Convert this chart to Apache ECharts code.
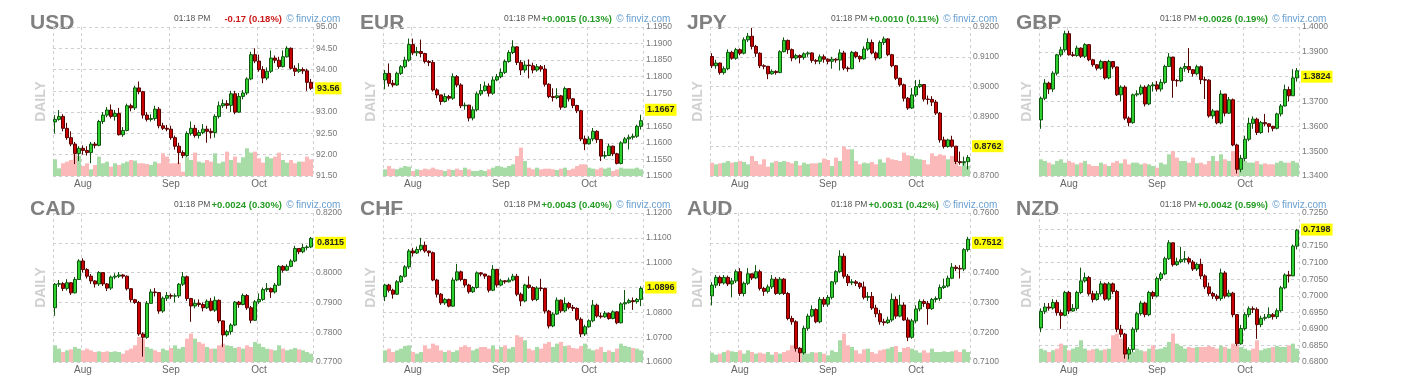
<!DOCTYPE html>
<html>
<head>
<meta charset="utf-8">
<title>Forex daily</title>
<script src="https://cdn.jsdelivr.net/npm/echarts@6/dist/echarts.min.js"></script>
<style>
html, body { margin: 0; padding: 0; background: #fff; }
#chart { width: 1415px; height: 377px; }
</style>
</head>
<body>
<div id="chart"></div>
<script>
// trading days shown on every panel (22 Jul - 20 Oct)
var days = [
  '07-22','07-23','07-26','07-27','07-28','07-29','07-30',
  '08-02','08-03','08-04','08-05','08-06','08-09','08-10','08-11','08-12','08-13',
  '08-16','08-17','08-18','08-19','08-20','08-23','08-24','08-25','08-26','08-27','08-30','08-31',
  '09-01','09-02','09-03','09-06','09-07','09-08','09-09','09-10','09-13','09-14','09-15','09-16','09-17',
  '09-20','09-21','09-22','09-23','09-24','09-27','09-28','09-29','09-30',
  '10-01','10-04','10-05','10-06','10-07','10-08','10-11','10-12','10-13','10-14','10-15','10-18','10-19','10-20'
];
var monthStarts = ['08-02', '09-01', '10-01'];
var monthNames = { '08': 'Aug', '09': 'Sep', '10': 'Oct' };

/* USD */
var usdFirstOpen = 92.77;
var usdClose = [92.83,92.90,92.62,92.40,92.25,92.03,92.15,92.10,92.05,92.25,
  92.22,92.78,92.93,93.05,92.90,92.97,92.47,92.57,93.15,93.10,
  93.57,93.48,92.93,92.83,92.85,93.07,92.68,92.62,92.60,92.40,
  92.20,92.05,91.98,92.50,92.62,92.45,92.52,92.60,92.55,92.52,
  92.90,93.15,93.20,93.16,93.43,93.00,93.37,93.45,93.78,94.35,
  94.20,94.00,93.80,93.96,94.27,94.22,94.07,94.30,94.50,94.03,
  93.96,94.00,93.97,93.70,93.56];
var usdHigh = [92.93,93.05,92.95,92.75,92.55,92.30,92.20,92.22,92.20,92.30,
  92.30,92.82,93.00,93.12,93.18,93.05,93.10,92.65,93.20,93.20,
  93.62,93.72,93.50,93.00,92.95,93.15,93.12,92.75,92.70,92.68,
  92.45,92.28,92.10,92.55,92.78,92.70,92.58,92.72,92.68,92.62,
  92.95,93.25,93.30,93.28,93.50,93.50,93.45,93.52,93.82,94.42,
  94.50,94.35,94.08,94.05,94.45,94.33,94.30,94.45,94.55,94.52,
  94.10,94.15,94.05,94.02,93.78];
var usdLow = [92.50,92.80,92.55,92.35,92.20,91.78,91.85,92.00,91.98,91.80,
  92.15,92.20,92.72,92.88,92.85,92.80,92.45,92.42,92.55,93.02,
  93.05,93.42,92.85,92.78,92.78,92.80,92.62,92.58,92.55,92.35,
  92.12,91.78,91.92,91.95,92.45,92.40,92.38,92.48,92.28,92.38,
  92.40,92.85,93.10,93.08,93.00,92.95,92.98,93.30,93.40,93.75,
  94.15,93.95,93.68,93.75,93.92,94.15,94.02,94.05,94.28,94.00,
  93.85,93.92,93.90,93.50,93.52];
var usdVolume = [50,23,38,43,48,66,60,30,38,20, 33,58,38,43,28,38,33,38,43,48,
  46,38,38,36,33,43,38,68,58,38, 38,40,13,58,48,70,43,40,48,43,
  68,38,43,73,48,58,40,56,83,70, 73,53,40,58,53,58,70,48,40,48, 38,43,43,58,50];

/* EUR */
var eurFirstOpen = 1.1790;
var eurClose = [1.1810,1.1780,1.1775,1.1810,1.1830,1.1850,1.1897,1.1872,1.1876,1.1870,
  1.1846,1.1843,1.1760,1.1745,1.1725,1.1740,1.1735,1.1800,1.1775,1.1712,
  1.1714,1.1675,1.1700,1.1748,1.1758,1.1772,1.1750,1.1790,1.1800,1.1813,
  1.1846,1.1873,1.1890,1.1843,1.1820,1.1835,1.1833,1.1820,1.1830,1.1823,
  1.1777,1.1740,1.1737,1.1742,1.1708,1.1764,1.1733,1.1713,1.1697,1.1612,
  1.1597,1.1612,1.1635,1.1610,1.1560,1.1562,1.1590,1.1567,1.1538,1.1600,
  1.1612,1.1617,1.1620,1.1650,1.1667];
var eurHigh = [1.1820,1.1840,1.1790,1.1815,1.1835,1.1860,1.1915,1.1915,1.1890,1.1912,
  1.1872,1.1850,1.1850,1.1765,1.1745,1.1750,1.1745,1.1810,1.1805,1.1780,
  1.1722,1.1715,1.1710,1.1755,1.1778,1.1785,1.1780,1.1800,1.1808,1.1825,
  1.1852,1.1880,1.1910,1.1892,1.1850,1.1848,1.1852,1.1842,1.1838,1.1835,
  1.1835,1.1780,1.1765,1.1765,1.1745,1.1770,1.1765,1.1735,1.1715,1.1700,
  1.1622,1.1620,1.1645,1.1638,1.1612,1.1575,1.1598,1.1592,1.1570,1.1605,
  1.1618,1.1625,1.1628,1.1655,1.1685];
var eurLow = [1.1762,1.1770,1.1768,1.1772,1.1805,1.1825,1.1845,1.1865,1.1862,1.1858,
  1.1840,1.1832,1.1755,1.1735,1.1715,1.1722,1.1728,1.1730,1.1768,1.1705,
  1.1700,1.1665,1.1668,1.1695,1.1742,1.1755,1.1740,1.1745,1.1786,1.1795,
  1.1808,1.1842,1.1868,1.1835,1.1805,1.1812,1.1795,1.1810,1.1815,1.1815,
  1.1770,1.1735,1.1725,1.1732,1.1700,1.1705,1.1725,1.1705,1.1690,1.1605,
  1.1578,1.1595,1.1605,1.1600,1.1545,1.1552,1.1560,1.1560,1.1535,1.1535,
  1.1600,1.1580,1.1610,1.1615,1.1640];
var eurVolume = [20,30,22,20,25,30,28,15,20,18, 22,20,25,20,18,15,20,18,22,18,
  25,20,15,15,18,15,20,25,30,28, 25,30,35,60,85,45,25,20,25,20,
  22,22,20,18,22,25,18,22,30,35, 35,25,22,20,25,22,25,15,20,25, 22,22,22,25,20];

/* JPY */
var jpyFirstOpen = 0.9101;
var jpyClose = [0.9070,0.9079,0.9047,0.9060,0.9115,0.9095,0.9124,0.9112,0.9157,0.9169,
  0.9135,0.9112,0.9070,0.9068,0.9043,0.9051,0.9047,0.9117,0.9155,0.9124,
  0.9096,0.9104,0.9098,0.9110,0.9113,0.9088,0.9085,0.9100,0.9092,0.9085,
  0.9092,0.9089,0.9113,0.9062,0.9060,0.9115,0.9101,0.9093,0.9126,0.9148,
  0.9113,0.9096,0.9148,0.9160,0.9107,0.9070,0.9028,0.9006,0.8961,0.8928,
  0.8972,0.9000,0.9007,0.8958,0.8957,0.8948,0.8911,0.8821,0.8799,0.8821,
  0.8800,0.8748,0.8745,0.8748,0.8762];
var jpyHigh = [0.9112,0.9090,0.9080,0.9068,0.9125,0.9120,0.9130,0.9128,0.9165,0.9180,
  0.9197,0.9140,0.9115,0.9075,0.9068,0.9058,0.9055,0.9122,0.9165,0.9158,
  0.9128,0.9110,0.9108,0.9115,0.9118,0.9115,0.9092,0.9108,0.9108,0.9095,
  0.9100,0.9095,0.9125,0.9120,0.9068,0.9120,0.9118,0.9105,0.9135,0.9162,
  0.9158,0.9118,0.9155,0.9168,0.9163,0.9110,0.9072,0.9030,0.9010,0.8965,
  0.8995,0.9022,0.9023,0.9008,0.8970,0.8968,0.8955,0.8915,0.8832,0.8825,
  0.8835,0.8800,0.8782,0.8765,0.8770];
var jpyLow = [0.9062,0.9060,0.9040,0.9040,0.9055,0.9090,0.9090,0.9105,0.9108,0.9150,
  0.9125,0.9100,0.9062,0.9058,0.9025,0.9040,0.9040,0.9045,0.9115,0.9110,
  0.9085,0.9090,0.9078,0.9090,0.9100,0.9080,0.9075,0.9075,0.9080,0.9075,
  0.9060,0.9080,0.9054,0.9055,0.9050,0.9058,0.9095,0.9082,0.9090,0.9120,
  0.9108,0.9088,0.9092,0.9140,0.9102,0.9065,0.9022,0.9000,0.8950,0.8922,
  0.8925,0.8965,0.8995,0.8950,0.8940,0.8935,0.8905,0.8812,0.8792,0.8795,
  0.8795,0.8740,0.8738,0.8735,0.8722];
var jpyVolume = [40,35,38,40,45,40,42,45,42,35, 60,45,35,50,28,40,45,42,45,42,
  38,45,32,40,36,38,38,40,52,48, 30,55,45,88,80,80,45,35,40,38,
  42,35,50,40,55,50,48,45,70,62, 60,52,50,48,35,68,60,65,62,50, 60,40,30,40,30];

/* GBP */
var gbpFirstOpen = 1.3626;
var gbpClose = [1.3713,1.3774,1.3750,1.3814,1.3888,1.3908,1.3973,1.3888,1.3885,1.3915,
  1.3882,1.3929,1.3868,1.3848,1.3834,1.3861,1.3795,1.3861,1.3839,1.3727,
  1.3758,1.3633,1.3615,1.3727,1.3731,1.3758,1.3690,1.3763,1.3767,1.3750,
  1.3777,1.3841,1.3879,1.3785,1.3783,1.3834,1.3841,1.3828,1.3812,1.3840,
  1.3788,1.3786,1.3642,1.3662,1.3614,1.3730,1.3653,1.3707,1.3525,1.3427,
  1.3471,1.3548,1.3612,1.3629,1.3575,1.3615,1.3610,1.3600,1.3592,1.3650,
  1.3682,1.3748,1.3723,1.3795,1.3824];
var gbpHigh = [1.3720,1.3790,1.3780,1.3822,1.3892,1.3920,1.3985,1.3985,1.3900,1.3925,
  1.3918,1.3935,1.3930,1.3872,1.3850,1.3868,1.3862,1.3868,1.3862,1.3840,
  1.3765,1.3765,1.3640,1.3732,1.3745,1.3768,1.3765,1.3770,1.3778,1.3782,
  1.3790,1.3848,1.3895,1.3880,1.3790,1.3840,1.3855,1.3915,1.3830,1.3848,
  1.3845,1.3800,1.3790,1.3670,1.3660,1.3745,1.3730,1.3718,1.3712,1.3530,
  1.3485,1.3562,1.3635,1.3640,1.3635,1.3622,1.3650,1.3612,1.3602,1.3655,
  1.3690,1.3768,1.3760,1.3830,1.3835];
var gbpLow = [1.3590,1.3705,1.3730,1.3738,1.3805,1.3880,1.3900,1.3885,1.3880,1.3880,
  1.3875,1.3875,1.3862,1.3840,1.3825,1.3828,1.3788,1.3790,1.3830,1.3722,
  1.3700,1.3625,1.3600,1.3610,1.3720,1.3725,1.3680,1.3685,1.3740,1.3740,
  1.3740,1.3770,1.3840,1.3715,1.3760,1.3778,1.3820,1.3815,1.3800,1.3805,
  1.3770,1.3710,1.3635,1.3630,1.3608,1.3608,1.3640,1.3650,1.3520,1.3410,
  1.3415,1.3460,1.3540,1.3590,1.3565,1.3570,1.3600,1.3575,1.3580,1.3588,
  1.3640,1.3680,1.3700,1.3730,1.3780];
var gbpVolume = [50,45,40,35,45,50,40,45,40,35, 40,45,35,30,30,40,35,30,40,45,
  38,50,35,40,40,35,38,35,30,25, 40,35,65,75,55,45,45,40,55,38,
  40,35,45,60,45,65,50,45,75,55, 50,45,40,40,45,35,38,35,35,40, 45,40,40,45,40];

/* CAD */
var cadFirstOpen = 0.7882;
var cadClose = [0.7961,0.7963,0.7947,0.7966,0.7932,0.7977,0.8039,0.8010,0.7988,0.7972,
  0.7962,0.8000,0.7962,0.7948,0.7985,0.7988,0.7992,0.7988,0.7946,0.7909,
  0.7900,0.7794,0.7783,0.7897,0.7935,0.7933,0.7871,0.7914,0.7923,0.7921,
  0.7922,0.7961,0.7986,0.7913,0.7888,0.7897,0.7893,0.7882,0.7904,0.7874,
  0.7907,0.7838,0.7791,0.7802,0.7824,0.7901,0.7893,0.7923,0.7882,0.7840,
  0.7902,0.7910,0.7943,0.7947,0.7935,0.7958,0.8021,0.8008,0.8021,0.8039,
  0.8081,0.8070,0.8084,0.8086,0.8115];
var cadHigh = [0.7965,0.7975,0.7968,0.7978,0.7968,0.7985,0.8045,0.8048,0.8015,0.7995,
  0.7975,0.8005,0.8000,0.7965,0.7990,0.7998,0.8002,0.7995,0.7990,0.7948,
  0.7912,0.7905,0.7800,0.7905,0.7945,0.7948,0.7935,0.7920,0.7935,0.7930,
  0.7930,0.7965,0.8002,0.7990,0.7915,0.7910,0.7910,0.7900,0.7910,0.7915,
  0.7920,0.7910,0.7840,0.7808,0.7830,0.7905,0.7905,0.7930,0.7928,0.7888,
  0.7908,0.7930,0.7950,0.7965,0.7950,0.7965,0.8025,0.8025,0.8028,0.8045,
  0.8090,0.8082,0.8097,0.8092,0.8120];
var cadLow = [0.7855,0.7952,0.7938,0.7940,0.7925,0.7930,0.7975,0.8000,0.7980,0.7962,
  0.7950,0.7955,0.7955,0.7938,0.7942,0.7978,0.7982,0.7980,0.7940,0.7900,
  0.7895,0.7788,0.7718,0.7778,0.7895,0.7920,0.7862,0.7865,0.7905,0.7912,
  0.7900,0.7915,0.7955,0.7905,0.7835,0.7880,0.7885,0.7870,0.7878,0.7870,
  0.7868,0.7830,0.7750,0.7785,0.7792,0.7820,0.7882,0.7890,0.7875,0.7830,
  0.7838,0.7895,0.7905,0.7935,0.7915,0.7930,0.7955,0.8000,0.8005,0.8018,
  0.8035,0.8062,0.8065,0.8075,0.8082];
var cadVolume = [50,40,30,35,38,45,40,35,40,35, 30,32,30,32,30,32,30,25,35,40,
  50,75,70,45,40,35,30,40,35,42, 50,40,45,70,85,70,60,55,45,40,
  40,50,55,50,48,42,45,40,50,45, 60,55,45,40,38,35,50,40,35,38, 42,38,35,30,25];

/* CHF */
var chfFirstOpen = 1.0863;
var chfClose = [1.0910,1.0889,1.0873,1.0923,1.0945,1.0983,1.1047,1.1039,1.1053,1.1070,
  1.1047,1.1040,1.0930,1.0873,1.0838,1.0852,1.0825,1.0930,1.0963,1.0932,
  1.0910,1.0883,1.0900,1.0959,1.0954,1.0946,1.0889,1.0973,1.0910,1.0927,
  1.0923,1.0930,1.0945,1.0873,1.0846,1.0910,1.0900,1.0852,1.0898,1.0896,
  1.0805,1.0745,1.0793,1.0849,1.0806,1.0836,1.0820,1.0816,1.0772,1.0713,
  1.0742,1.0766,1.0829,1.0785,1.0782,1.0796,1.0775,1.0802,1.0758,1.0834,
  1.0839,1.0847,1.0843,1.0852,1.0896];
var chfHigh = [1.0915,1.0915,1.0895,1.0930,1.0950,1.0990,1.1055,1.1060,1.1065,1.1100,
  1.1085,1.1048,1.1045,1.0935,1.0878,1.0858,1.0855,1.0940,1.0995,1.0968,
  1.0935,1.0915,1.0905,1.0965,1.0962,1.0955,1.0948,1.0990,1.0975,1.0935,
  1.0930,1.0940,1.0955,1.0955,1.0880,1.0915,1.0945,1.0905,1.0905,1.0935,
  1.0900,1.0810,1.0800,1.0860,1.0852,1.0860,1.0842,1.0830,1.0820,1.0780,
  1.0750,1.0772,1.0850,1.0835,1.0798,1.0805,1.0800,1.0808,1.0805,1.0840,
  1.0890,1.0855,1.0860,1.0858,1.0905];
var chfLow = [1.0845,1.0880,1.0855,1.0870,1.0918,1.0940,1.0975,1.1025,1.1035,1.1045,
  1.1040,1.1025,1.0925,1.0860,1.0830,1.0830,1.0820,1.0822,1.0925,1.0925,
  1.0900,1.0875,1.0878,1.0895,1.0945,1.0935,1.0880,1.0885,1.0900,1.0905,
  1.0915,1.0920,1.0925,1.0865,1.0825,1.0840,1.0895,1.0845,1.0845,1.0885,
  1.0795,1.0735,1.0740,1.0790,1.0798,1.0800,1.0812,1.0805,1.0765,1.0700,
  1.0705,1.0738,1.0760,1.0778,1.0775,1.0778,1.0770,1.0772,1.0752,1.0755,
  1.0810,1.0835,1.0810,1.0835,1.0825];
var chfVolume = [35,40,30,35,40,48,50,30,25,30, 50,40,55,50,35,30,35,30,35,45,
  50,45,35,40,45,45,40,50,38,45, 50,40,45,80,75,65,40,35,45,40,
  55,60,45,55,60,48,50,42,40,48, 55,40,35,38,45,30,35,30,40,55, 48,45,42,40,35];

/* AUD */
var audFirstOpen = 0.7322;
var audClose = [0.7358,0.7384,0.7365,0.7384,0.7362,0.7372,0.7403,0.7330,0.7364,0.7396,
  0.7382,0.7403,0.7347,0.7337,0.7352,0.7378,0.7330,0.7378,0.7330,0.7246,
  0.7235,0.7146,0.7131,0.7213,0.7254,0.7276,0.7235,0.7310,0.7294,0.7317,
  0.7369,0.7403,0.7455,0.7388,0.7366,0.7369,0.7364,0.7352,0.7317,0.7320,
  0.7281,0.7262,0.7235,0.7232,0.7241,0.7310,0.7254,0.7291,0.7241,0.7183,
  0.7238,0.7278,0.7303,0.7296,0.7279,0.7310,0.7313,0.7350,0.7355,0.7381,
  0.7418,0.7414,0.7412,0.7477,0.7512];
var audHigh = [0.7368,0.7392,0.7390,0.7392,0.7390,0.7382,0.7410,0.7415,0.7370,0.7415,
  0.7395,0.7425,0.7410,0.7352,0.7360,0.7392,0.7385,0.7385,0.7382,0.7335,
  0.7255,0.7240,0.7150,0.7222,0.7262,0.7290,0.7280,0.7318,0.7318,0.7325,
  0.7372,0.7408,0.7475,0.7465,0.7395,0.7378,0.7375,0.7368,0.7370,0.7335,
  0.7335,0.7292,0.7275,0.7245,0.7252,0.7330,0.7320,0.7325,0.7300,0.7250,
  0.7245,0.7290,0.7310,0.7310,0.7305,0.7315,0.7320,0.7360,0.7380,0.7390,
  0.7432,0.7425,0.7425,0.7482,0.7520];
var audLow = [0.7290,0.7348,0.7355,0.7360,0.7355,0.7317,0.7365,0.7322,0.7320,0.7358,
  0.7375,0.7378,0.7340,0.7322,0.7330,0.7345,0.7325,0.7325,0.7325,0.7240,
  0.7225,0.7135,0.7100,0.7125,0.7205,0.7250,0.7230,0.7230,0.7285,0.7285,
  0.7310,0.7360,0.7398,0.7380,0.7355,0.7358,0.7355,0.7345,0.7310,0.7305,
  0.7275,0.7250,0.7225,0.7222,0.7228,0.7235,0.7245,0.7250,0.7238,0.7170,
  0.7178,0.7230,0.7270,0.7285,0.7225,0.7275,0.7300,0.7305,0.7345,0.7350,
  0.7378,0.7405,0.7380,0.7405,0.7470];
var audVolume = [28,22,25,30,35,32,30,35,25,35, 30,25,28,25,30,22,30,25,30,35,
  50,45,35,30,25,30,28,30,25,20, 35,30,65,85,50,45,35,25,38,40,
  30,25,35,38,40,45,48,30,42,45, 40,35,28,35,28,40,30,30,32,30, 32,35,30,38,30];

/* NZD */
var nzdFirstOpen = 0.6903;
var nzdClose = [0.6953,0.6966,0.6963,0.6980,0.6949,0.6941,0.7010,0.6954,0.6962,0.7010,
  0.7045,0.7055,0.7006,0.6989,0.7006,0.7036,0.6990,0.7036,0.7013,0.6899,
  0.6884,0.6824,0.6838,0.6899,0.6946,0.6978,0.6943,0.7010,0.6999,0.7052,
  0.7066,0.7112,0.7160,0.7094,0.7103,0.7109,0.7112,0.7102,0.7081,0.7095,
  0.7060,0.7027,0.7007,0.6999,0.6992,0.7069,0.6999,0.7008,0.6943,0.6855,
  0.6901,0.6943,0.6961,0.6959,0.6913,0.6932,0.6935,0.6943,0.6937,0.6955,
  0.7024,0.7063,0.7060,0.7150,0.7198];
var nzdHigh = [0.6962,0.6978,0.6978,0.6990,0.6988,0.6958,0.7015,0.7015,0.6975,0.7015,
  0.7085,0.7070,0.7060,0.7015,0.7015,0.7045,0.7040,0.7042,0.7040,0.7018,
  0.6912,0.6888,0.6845,0.6905,0.6952,0.6985,0.6982,0.7015,0.7015,0.7058,
  0.7072,0.7118,0.7168,0.7160,0.7115,0.7148,0.7135,0.7118,0.7108,0.7100,
  0.7112,0.7065,0.7040,0.7012,0.7005,0.7082,0.7075,0.7018,0.7012,0.6945,
  0.6912,0.6950,0.6968,0.6968,0.6965,0.6940,0.6945,0.6965,0.6948,0.6962,
  0.7030,0.7068,0.7075,0.7155,0.7202];
var nzdLow = [0.6890,0.6945,0.6955,0.6958,0.6940,0.6900,0.6938,0.6945,0.6952,0.6955,
  0.7005,0.7040,0.7000,0.6980,0.6985,0.7000,0.6985,0.6985,0.7005,0.6890,
  0.6875,0.6810,0.6808,0.6830,0.6890,0.6940,0.6935,0.6938,0.6990,0.6995,
  0.7045,0.7062,0.7108,0.7088,0.7090,0.7098,0.7100,0.7095,0.7075,0.7075,
  0.7050,0.7020,0.7000,0.6990,0.6985,0.6985,0.6992,0.6995,0.6935,0.6848,
  0.6852,0.6895,0.6935,0.6948,0.6870,0.6905,0.6925,0.6932,0.6928,0.6930,
  0.6950,0.7020,0.7040,0.7060,0.7140];
var nzdVolume = [40,35,30,35,40,55,50,35,40,45, 65,40,35,38,40,35,38,40,80,85,
  70,45,38,30,40,35,32,40,50,38, 40,45,60,85,55,48,40,45,42,45,
  45,45,48,45,40,48,45,40,55,50, 45,40,35,40,65,35,40,42,45,48, 45,45,50,55,40];

// one entry per panel, left to right, top row first
var panels = [
  { name: 'USD', first: usdFirstOpen, close: usdClose, high: usdHigh, low: usdLow, vol: usdVolume, min: 91.5, max: 95, step: 0.5, digits: 2, change: '-0.17 (0.18%)', up: false },
  { name: 'EUR', first: eurFirstOpen, close: eurClose, high: eurHigh, low: eurLow, vol: eurVolume, min: 1.15, max: 1.195, step: 0.005, digits: 4, change: '+0.0015 (0.13%)', up: true },
  { name: 'JPY', first: jpyFirstOpen, close: jpyClose, high: jpyHigh, low: jpyLow, vol: jpyVolume, min: 0.87, max: 0.92, step: 0.01, digits: 4, change: '+0.0010 (0.11%)', up: true },
  { name: 'GBP', first: gbpFirstOpen, close: gbpClose, high: gbpHigh, low: gbpLow, vol: gbpVolume, min: 1.34, max: 1.40, step: 0.01, digits: 4, change: '+0.0026 (0.19%)', up: true },
  { name: 'CAD', first: cadFirstOpen, close: cadClose, high: cadHigh, low: cadLow, vol: cadVolume, min: 0.77, max: 0.82, step: 0.01, digits: 4, change: '+0.0024 (0.30%)', up: true },
  { name: 'CHF', first: chfFirstOpen, close: chfClose, high: chfHigh, low: chfLow, vol: chfVolume, min: 1.06, max: 1.12, step: 0.01, digits: 4, change: '+0.0043 (0.40%)', up: true },
  { name: 'AUD', first: audFirstOpen, close: audClose, high: audHigh, low: audLow, vol: audVolume, min: 0.71, max: 0.76, step: 0.01, digits: 4, change: '+0.0031 (0.42%)', up: true },
  { name: 'NZD', first: nzdFirstOpen, close: nzdClose, high: nzdHigh, low: nzdLow, vol: nzdVolume, min: 0.68, max: 0.725, step: 0.005, digits: 4, change: '+0.0042 (0.59%)', up: true }
];

var lefts = [53, 383, 710, 1039];
var tops = [27, 213];
var W = 260, H = 149;
var volMax = 446; // volume axis top, keeps the volume strip near the bottom
var FONT = '"Liberation Sans", Arial, sans-serif';
var gridDash = { color: '#cfcfcf', type: [3, 3], width: 1 };

function isMonthStart(v) { return monthStarts.indexOf(v) >= 0; }

// open = previous close (first open given), [open, close, low, high]
function buildCandles(p) {
  return p.close.map(function (c, i) {
    var o = i ? p.close[i - 1] : p.first;
    return [o, c, Math.min(p.low[i], o, c), Math.max(p.high[i], o, c)];
  });
}

function txt(x, y, text, font, fill, align, extra) {
  var el = {
    type: 'text', x: x, y: y, silent: true,
    style: { text: text, font: font, fill: fill, align: align, textAlign: align,
      verticalAlign: 'middle', textVerticalAlign: 'middle' }
  };
  if (extra) for (var k in extra) el[k] = extra[k];
  return el;
}

var option = { animation: false, grid: [], xAxis: [], yAxis: [], series: [], graphic: [] };

panels.forEach(function (p, k) {
  var L = lefts[k % 4], T = tops[Math.floor(k / 4)];
  var candles = buildCandles(p);
  var last = p.close[p.close.length - 1];

  option.grid.push({ left: L, top: T, width: W, height: H });

  option.xAxis.push({
    type: 'category', gridIndex: k, data: days, boundaryGap: true,
    axisLine: { show: false }, axisTick: { show: false },
    axisLabel: {
      interval: function (i, v) { return isMonthStart(v); },
      formatter: function (v) { return monthNames[v.slice(0, 2)]; },
      color: '#666', fontSize: 10, fontFamily: FONT, margin: 3
    },
    splitLine: {
      show: true,
      interval: function (i, v) { return i === 0 || isMonthStart(v); },
      lineStyle: gridDash
    }
  });

  option.yAxis.push({
    type: 'value', gridIndex: k, position: 'right',
    min: p.min, max: p.max, interval: p.step,
    axisLine: { show: false }, axisTick: { show: false },
    axisLabel: {
      formatter: function (v) { return v.toFixed(p.digits); },
      color: '#777', fontSize: 8.5, fontFamily: FONT, margin: 3,
      showMinLabel: true, showMaxLabel: true
    },
    splitLine: { show: true, lineStyle: gridDash }
  });
  option.yAxis.push({ type: 'value', gridIndex: k, min: 0, max: volMax, show: false });

  option.series.push({
    type: 'bar', xAxisIndex: k, yAxisIndex: 2 * k + 1, barWidth: '100%', z: 1, silent: true,
    data: p.vol.map(function (v, i) {
      var c = candles[i];
      return { value: v, itemStyle: { color: c[1] >= c[0] ? '#a7dca7' : '#fbb9b9' } };
    })
  });

  option.series.push({
    type: 'candlestick', xAxisIndex: k, yAxisIndex: 2 * k, z: 3, silent: true,
    barWidth: 3, data: candles,
    itemStyle: {
      color: '#2fcf2f', color0: '#c80000',
      borderColor: '#0e550e', borderColor0: '#560000', borderWidth: 1
    }
  });

  // last price tag on the right axis, placed through the price scale
  option.series.push({
    type: 'line', xAxisIndex: k, yAxisIndex: 2 * k, data: [], silent: true,
    markLine: {
      silent: true, symbol: 'none', animation: false,
      lineStyle: { color: 'rgba(0,0,0,0)', width: 1, type: 'solid' },
      label: {
        show: true, position: 'end', distance: 2,
        formatter: last.toFixed(p.digits),
        backgroundColor: '#ffff00', color: '#222', fontWeight: 'bold',
        fontSize: 9, fontFamily: FONT, padding: [2, 2, 1, 2], opacity: 1
      },
      data: [{ yAxis: last }]
    }
  });

  // header texts
  option.graphic.push(txt(L - 23, T - 4, p.name, 'bold 21px ' + FONT, '#808080', 'left'));
  option.graphic.push(txt(L - 12, T + H / 2, 'DAILY', 'bold 14px ' + FONT, '#d0d0d0', 'center',
    { rotation: Math.PI / 2 }));
  option.graphic.push(txt(L + 121, T - 8, '01:18 PM', '8.5px ' + FONT, '#555', 'left'));
  option.graphic.push(txt(L + W - 31, T - 8, p.change, 'bold 9.5px ' + FONT,
    p.up ? '#249b24' : '#cc1818', 'right'));
  option.graphic.push(txt(L + W - 23, T - 8, '\u00a9', '10px ' + FONT, '#6aa0d0', 'center'));
  option.graphic.push(txt(L + W - 17, T - 8, 'finviz.com', '10px ' + FONT, '#6aa0d0', 'left'));
});

var chart = echarts.init(document.getElementById('chart'), null, { renderer: 'canvas' });
chart.setOption(option);
</script>
</body>
</html>
